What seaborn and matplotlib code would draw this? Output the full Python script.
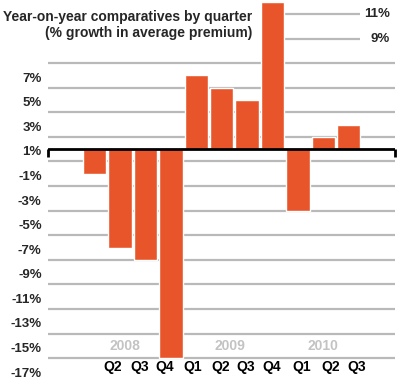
import matplotlib
matplotlib.use("Agg")
import matplotlib.pyplot as plt
import matplotlib.transforms as mtransforms
import seaborn as sns
import pandas as pd

# data
periods = ["2008 Q1", "2008 Q2", "2008 Q3", "2008 Q4",
           "2009 Q1", "2009 Q2", "2009 Q3", "2009 Q4",
           "2010 Q1", "2010 Q2", "2010 Q3"]
growth = [-2, -8, -9, -17, 6, 5, 4, 12, -5, 1, 2]
quarter_labels = ["Q2", "Q3", "Q4", "Q1", "Q2", "Q3", "Q4", "Q1", "Q2", "Q3"]
years = ["2008", "2009", "2010"]
grid_left = [7, 5, 3, 1, -1, -3, -5, -7, -9, -11, -13, -15, -17]
grid_right = [11, 9]

# layout (where the sloppy original puts its labels)
quarter_pos = [0.72, 1.77, 2.75, 3.85, 4.94, 5.96, 6.97, 8.14, 9.27, 10.33]
year_pos = [1.19, 5.33, 9.0]

BAR = "#e9552a"
GRID = "#b9b9b9"

sns.set_style("white")
plt.rcParams["font.family"] = ["Liberation Sans", "DejaVu Sans"]
plt.rcParams["font.weight"] = "bold"

df = pd.DataFrame({"period": periods, "growth": growth})

fig = plt.figure(figsize=(4.0, 3.79), dpi=100)
ax = fig.add_axes([48 / 400, 0, 347 / 400, 1])

for v in grid_left:
    ax.axhline(v, color=GRID, lw=1.6, zorder=0)
ax.hlines(grid_right, 7.45, 10.45, color=GRID, lw=1.6, zorder=0)

sns.barplot(data=df, x="period", y="growth", color=BAR, width=0.92,
            saturation=1, ax=ax, zorder=2)

ax.set_xlim(-1.84, 11.82)
ax.set_ylim(-18.7, 12.14)

ax.axhline(0, color="black", lw=2, zorder=3)
ax.vlines([-1.84, 11.82], -0.6, 0, color="black", lw=2, zorder=3, clip_on=False)

for s in ax.spines.values():
    s.set_visible(False)
ax.set_xlabel("")
ax.set_ylabel("")
ax.set_xticks([])
ax.set_yticks(grid_left, [f"{v}%" for v in grid_left])
ax.tick_params(axis="y", length=0, pad=4.5, labelsize=9.5)
shift = mtransforms.ScaledTranslation(0, -14 / 100, fig.dpi_scale_trans)
for lab in ax.get_yticklabels():
    lab.set_fontweight("bold")
    lab.set_transform(lab.get_transform() + shift)

trans = mtransforms.blended_transform_factory(ax.transData, ax.transAxes)
for x, q in zip(quarter_pos, quarter_labels):
    ax.text(x, 1 - 367 / 379, q, transform=trans, ha="center", va="center",
            fontsize=10, fontweight="bold", color="black")
for x, y in zip(year_pos, years):
    ax.text(x, 1 - 346 / 379, y, transform=trans, ha="center", va="center",
            fontsize=10, fontweight="bold", color="#c3c3c3")

trans_r = mtransforms.blended_transform_factory(ax.transAxes, ax.transData)
for v in grid_right:
    ax.text((390 - 48) / 347, v, f"{v}%", transform=trans_r, ha="right",
            va="center", fontsize=9.5, fontweight="bold")

fig.text(252 / 400, 1 - 17 / 379, "Year-on-year comparatives by quarter",
         ha="right", va="center", fontsize=10, fontweight="bold")
fig.text(252 / 400, 1 - 33 / 379, "(% growth in average premium)",
         ha="right", va="center", fontsize=10, fontweight="bold")

fig.savefig("out.png", dpi=100)
